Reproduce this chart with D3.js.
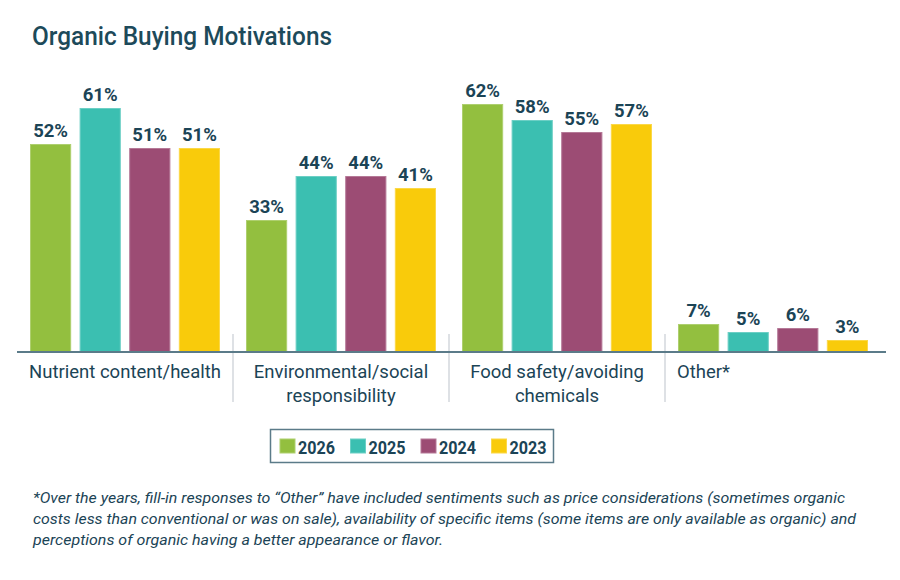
<!DOCTYPE html>
<html>
<head>
<meta charset="utf-8">
<script src="https://cdn.jsdelivr.net/npm/d3@7"></script>
<style>
  body { margin: 0; background: #fff; }
  svg text { font-family: Roboto, "Noto Sans", sans-serif; fill: #1b4456; }
</style>
</head>
<body>
<div id="chart"></div>
<script>
const categories = ["Nutrient content/health", "Environmental/social responsibility", "Food safety/avoiding chemicals", "Other*"]
const categoryLines = [["Nutrient content/health"], ["Environmental/social", "responsibility"], ["Food safety/avoiding", "chemicals"], ["Other*"]]
const years = ["2026", "2025", "2024", "2023"]
const values2026 = [52, 33, 62, 7]
const values2025 = [61, 44, 58, 5]
const values2024 = [51, 44, 55, 6]
const values2023 = [51, 41, 57, 3]
const colors = ["#93bf3f", "#3bbfb1", "#9c4c74", "#f9cb0b"]
const footnoteLines = [
  "*Over the years, fill-in responses to \u201cOther\u201d have included sentiments such as price considerations (sometimes organic",
  "costs less than conventional or was on sale), availability of specific items (some items are only available as organic) and",
  "perceptions of organic having a better appearance or flavor."
]
const footnoteWidths = [812, 823, 410]

const width = 900
const height = 580
const baseline = 352

const series = [values2026, values2025, values2024, values2023]
const data = []
categories.forEach((c, i) => {
  years.forEach((y, j) => data.push({ cat: c, year: y, value: series[j][i], color: colors[j] }))
})

const svg = d3.select("#chart").append("svg")
  .attr("width", width)
  .attr("height", height)

// title
svg.append("text")
  .attr("x", 32)
  .attr("y", 45)
  .attr("textLength", 300)
  .attr("lengthAdjust", "spacingAndGlyphs")
  .style("font-size", "26px")
  .style("font-weight", "500")
  .style("fill", "#1d4a5a")
  .text("Organic Buying Motivations")

const x0 = d3.scaleBand()
  .domain(categories)
  .range([17, 881])
  .paddingInner(0)
  .paddingOuter(0)

const x1 = d3.scaleBand()
  .domain(years)
  .range([13, x0.bandwidth() - 13])
  .paddingInner(0.17)
  .paddingOuter(0)

const y = d3.scaleLinear()
  .domain([0, 61])
  .range([baseline, baseline - 244])

// bars
svg.selectAll("rect.bar")
  .data(data)
  .join("rect")
  .attr("class", "bar")
  .attr("x", d => x0(d.cat) + x1(d.year) + 0.5)
  .attr("y", d => y(d.value) + 0.5)
  .attr("width", x1.bandwidth() - 1)
  .attr("height", d => baseline - y(d.value) - 0.5)
  .attr("fill", d => d.color)
  .attr("stroke", d => d3.interpolateRgb(d.color, "#fff")(0.25))
  .attr("stroke-width", 1)

// value labels
svg.selectAll("text.val")
  .data(data)
  .join("text")
  .attr("class", "val")
  .attr("x", d => x0(d.cat) + x1(d.year) + x1.bandwidth() / 2)
  .attr("y", d => y(d.value) - 7)
  .attr("text-anchor", "middle")
  .style("font-size", "18.5px")
  .style("font-weight", "700")
  .text(d => d.value + "%")

// separators between groups
svg.selectAll("line.sep")
  .data(categories.slice(1))
  .join("line")
  .attr("class", "sep")
  .attr("x1", d => x0(d))
  .attr("x2", d => x0(d))
  .attr("y1", 334)
  .attr("y2", 402)
  .attr("stroke", "#d3d7dc")
  .attr("stroke-width", 1.5)

// axis
const axis = svg.append("g")
  .attr("transform", `translate(0,${baseline})`)
  .call(d3.axisBottom(x0).tickSize(0).tickFormat(""))
axis.select(".domain")
  .attr("d", "M17,0H886")
  .attr("stroke", "#5b7b89")
  .attr("stroke-width", 2)

// category labels
categories.forEach((c, i) => {
  const lines = categoryLines[i]
  const isOther = i === categories.length - 1
  const t = svg.append("text")
    .attr("text-anchor", isOther ? "start" : "middle")
    .style("font-size", "18.5px")
  lines.forEach((l, k) => {
    t.append("tspan")
      .attr("x", isOther ? x0(c) + x1(years[0]) - 1 : x0(c) + x0.bandwidth() / 2)
      .attr("y", 378 + k * 24)
      .text(l)
  })
})

// legend
const legend = svg.append("g")
svg.append("rect")
  .attr("x", 270.5)
  .attr("y", 429.5)
  .attr("width", 283)
  .attr("height", 33)
  .attr("fill", "none")
  .attr("stroke", "#5b7b89")
  .attr("stroke-width", 1.5)

const lg = legend.selectAll("g")
  .data(years)
  .join("g")
  .attr("transform", (d, i) => `translate(${280 + i * 70.5},439)`)
lg.append("rect")
  .attr("width", 15)
  .attr("height", 14)
  .attr("fill", (d, i) => colors[i])
  .attr("stroke", (d, i) => d3.interpolateRgb(colors[i], "#fff")(0.25))
lg.append("text")
  .attr("x", 18)
  .attr("y", 14.5)
  .attr("textLength", 37)
  .attr("lengthAdjust", "spacingAndGlyphs")
  .style("font-size", "19px")
  .style("font-weight", "700")
  .text(d => d)

// footnote
svg.selectAll("text.foot")
  .data(footnoteLines)
  .join("text")
  .attr("class", "foot")
  .attr("x", 33)
  .attr("y", (d, i) => 503 + i * 21)
  .attr("textLength", (d, i) => footnoteWidths[i])
  .attr("lengthAdjust", "spacingAndGlyphs")
  .style("font-size", "15.5px")
  .style("font-style", "italic")
  .text(d => d)
</script>
</body>
</html>
